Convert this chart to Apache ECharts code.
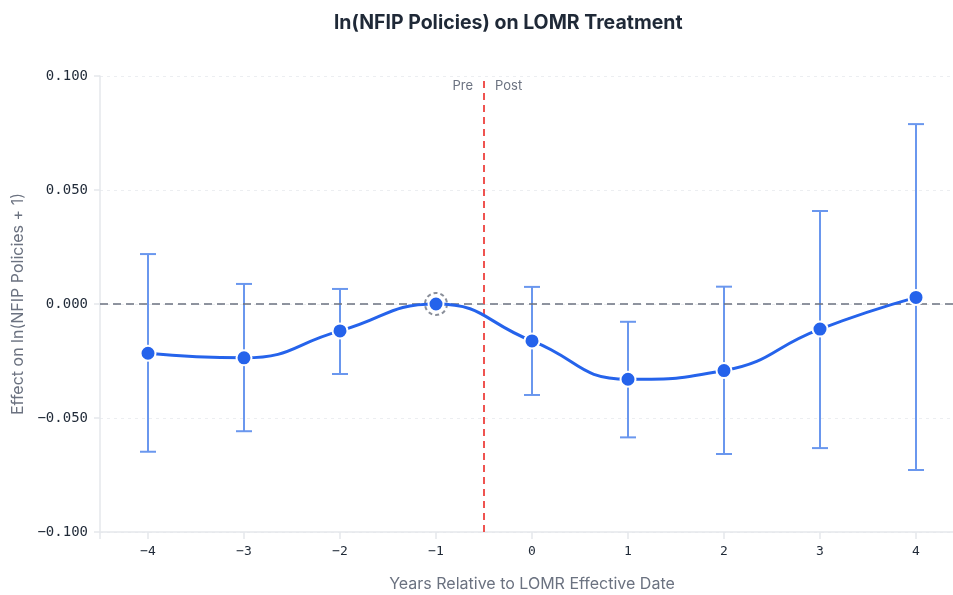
<!DOCTYPE html>
<html>
<head>
<meta charset="utf-8">
<script src="https://cdn.jsdelivr.net/npm/echarts@6/dist/echarts.min.js"></script>
<style>
  html, body { margin: 0; padding: 0; background: #fff; }
  #chart { width: 953px; height: 595px; }
</style>
</head>
<body>
<div id="chart"></div>
<script>
// Event-study estimates: effect of LOMR treatment on ln(NFIP policies + 1)
const years = [-4, -3, -2, -1, 0, 1, 2, 3, 4];
const estimates = [-0.0216, -0.0236, -0.0118, 0.0, -0.0162, -0.0330, -0.0292, -0.0110, 0.0029];
const ciLower = [-0.0648, -0.0558, -0.0307, 0.0, -0.0399, -0.0585, -0.0658, -0.0632, -0.0728];
const ciUpper = [0.0219, 0.0088, 0.0066, 0.0, 0.0075, -0.0078, 0.0076, 0.0408, 0.0789];
const referenceYear = -1;

const fmtMinus = s => String(s).replace('-', '\u2212');

const pointData = years.map((yr, i) => [yr, estimates[i]]);
const barData = years
  .map((yr, i) => [yr, ciLower[i], ciUpper[i]])
  .filter(d => d[0] !== referenceYear);

const chart = echarts.init(document.getElementById('chart'));

chart.setOption({
  animation: false,
  backgroundColor: '#ffffff',
  title: {
    text: 'ln(NFIP Policies) on LOMR Treatment',
    left: 329,
    top: 8,
    textStyle: { fontFamily: 'Inter', fontWeight: 'bold', fontSize: 19.5, color: '#1f2937' }
  },
  grid: { left: 100, right: -11, top: 76, bottom: 63, outerBoundsMode: 'none', containLabel: false },
  xAxis: {
    type: 'value',
    min: -4.5,
    max: 4.5,
    name: 'Years Relative to LOMR Effective Date',
    nameLocation: 'middle',
    nameGap: 44,
    nameTextStyle: { fontFamily: 'Inter', fontSize: 16, color: '#6b7280' },
    axisLine: { show: true, onZero: false, lineStyle: { color: '#e5e7eb', width: 1.5 } },
    axisTick: { show: true, length: 7, customValues: [-4.5].concat(years), lineStyle: { color: '#e5e7eb', width: 1.5 } },
    axisLabel: {
      customValues: years,
      margin: 13,
      fontFamily: 'DejaVu Sans Mono',
      fontSize: 13,
      color: '#1f2937',
      formatter: v => fmtMinus(v)
    },
    splitLine: { show: false }
  },
  yAxis: {
    type: 'value',
    min: -0.1,
    max: 0.1,
    interval: 0.05,
    name: 'Effect on ln(NFIP Policies + 1)',
    nameLocation: 'middle',
    nameGap: 74,
    nameTextStyle: { fontFamily: 'Inter', fontSize: 16, color: '#6b7280' },
    axisLine: { show: true, onZero: false, lineStyle: { color: '#e5e7eb', width: 1.5 } },
    axisTick: { show: true, length: 6, lineStyle: { color: '#e5e7eb', width: 1.5 } },
    axisLabel: {
      margin: 12,
      fontFamily: 'DejaVu Sans Mono',
      fontSize: 14,
      color: '#1f2937',
      formatter: v => fmtMinus(v.toFixed(3))
    },
    splitLine: { show: true, lineStyle: { color: '#eceef1', type: [3, 4], width: 1 } }
  },
  series: [
    {
      // 95% confidence intervals drawn as capped whiskers
      type: 'custom',
      z: 3,
      data: barData,
      renderItem: (params, api) => {
        const x = api.value(0);
        const lo = api.coord([x, api.value(1)]);
        const hi = api.coord([x, api.value(2)]);
        const cap = 8;
        const style = { stroke: '#6a97ee', lineWidth: 2, fill: null };
        return {
          type: 'group',
          children: [
            { type: 'line', shape: { x1: lo[0], y1: lo[1], x2: hi[0], y2: hi[1] }, style },
            { type: 'line', shape: { x1: hi[0] - cap, y1: hi[1], x2: hi[0] + cap, y2: hi[1] }, style },
            { type: 'line', shape: { x1: lo[0] - cap, y1: lo[1], x2: lo[0] + cap, y2: lo[1] }, style }
          ]
        };
      }
    },
    {
      type: 'line',
      z: 5,
      data: pointData,
      smooth: 0.5,
      symbol: 'circle',
      symbolSize: 15,
      lineStyle: { color: '#2563eb', width: 3 },
      itemStyle: { color: '#2563eb', borderColor: '#ffffff', borderWidth: 2 },
      markLine: {
        silent: true,
        symbol: 'none',
        label: { show: false },
        data: [
          { yAxis: 0, lineStyle: { color: '#6b7280', type: [8, 5], width: 1.5 } },
          { xAxis: -0.5, lineStyle: { color: '#ef5350', type: [7, 5], width: 2 } }
        ]
      }
    },
    {
      // Dashed ring marking the omitted reference period
      type: 'scatter',
      z: 4,
      data: [[referenceYear, estimates[years.indexOf(referenceYear)]]],
      symbol: 'circle',
      symbolSize: 22,
      itemStyle: { color: 'rgba(0,0,0,0)', borderColor: '#6b7280', borderWidth: 2, borderType: [4, 3] }
    }
  ],
  graphic: [
    {
      type: 'text',
      right: 953 - 473,
      top: 80,
      style: { text: 'Pre', fontFamily: 'Inter', fontSize: 13, fill: '#6b7280' }
    },
    {
      type: 'text',
      left: 495,
      top: 80,
      style: { text: 'Post', fontFamily: 'Inter', fontSize: 13, fill: '#6b7280' }
    }
  ]
});
</script>
</body>
</html>
